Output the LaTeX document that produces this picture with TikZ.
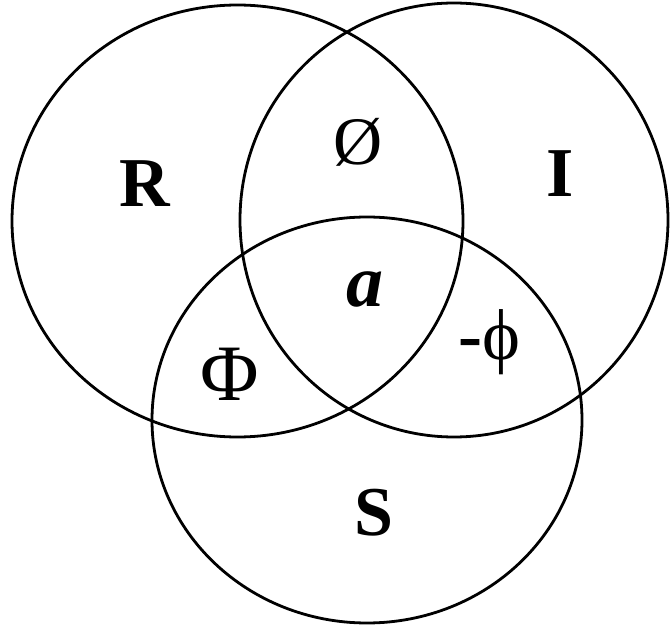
\documentclass[tikz,border=0pt]{standalone}
\usepackage{fontspec}
\setmainfont{Liberation Serif}
\begin{document}
\begin{tikzpicture}[x=1pt,y=-1pt,
  ring/.style={line width=2.8pt},
  boldlbl/.style={font=\fontsize{70}{72}\selectfont\bfseries, inner sep=0pt, anchor=base},
  reglbl/.style={font=\fontsize{64}{66}\selectfont, inner sep=0pt, anchor=base}]
\useasboundingbox (0,0) rectangle (670,628);
\draw[ring] (237.5,221) ellipse [x radius=225.5pt, y radius=216pt];
\draw[ring] (454,220) ellipse [x radius=214pt, y radius=217pt];
\draw[ring] (367,420) ellipse [x radius=215pt, y radius=203pt];
\node[boldlbl] (R) at (145,207) {R};
\node[boldlbl] (I) at (560,197) {I};
\node[boldlbl] (S) at (374,535) {S};
\node[boldlbl, font=\fontsize{74}{76}\selectfont\bfseries\itshape] (a) at (365,307) {a};
\node[reglbl, font=\fontsize{80}{82}\selectfont] (Phi) at (230,401) {Φ};
\node[reglbl, font=\fontsize{68}{70}\selectfont] (O) at (358,165) {Ø};
\node[reglbl, font=\fontsize{72}{74}\selectfont] (phi) at (489,360) {\textbf{-}ϕ};
\end{tikzpicture}
\end{document}
